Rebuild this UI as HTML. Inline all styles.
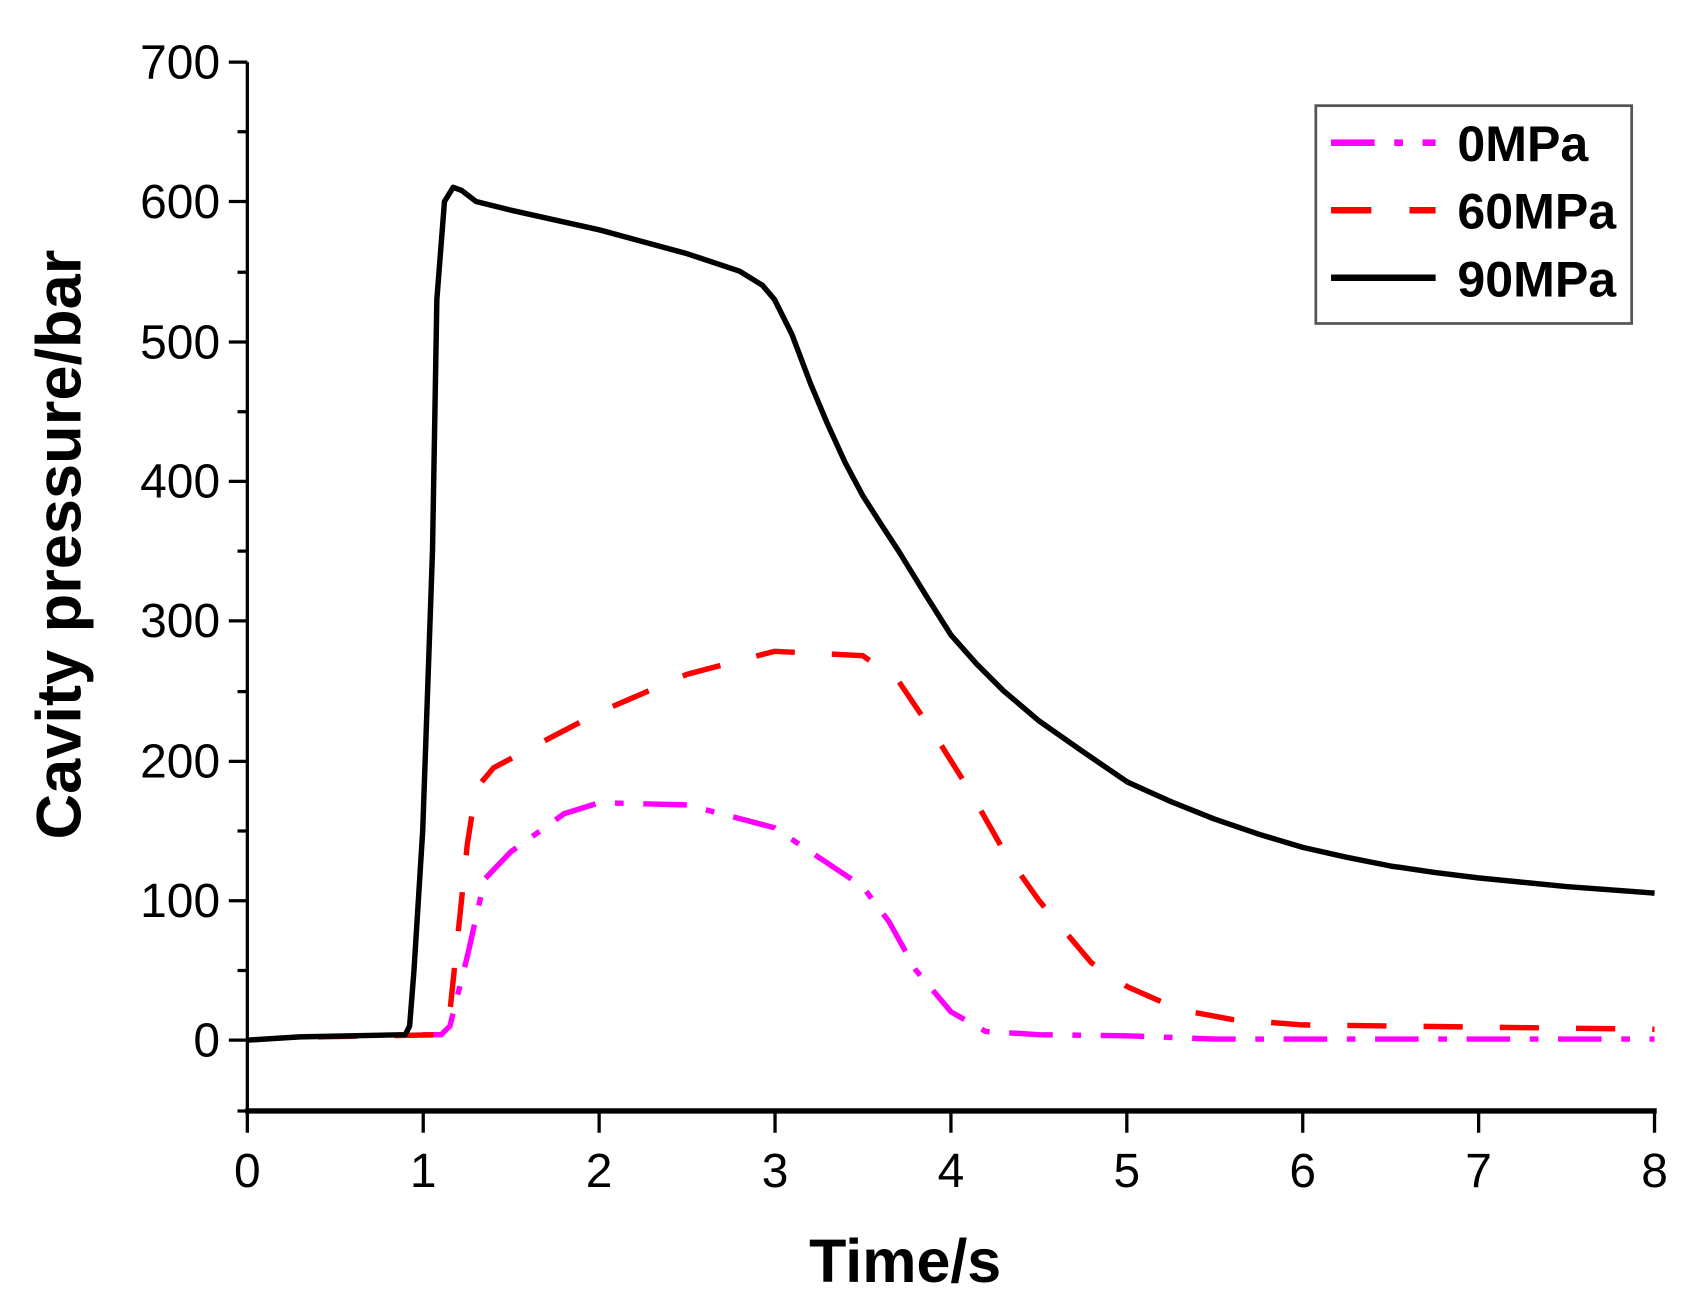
<!DOCTYPE html>
<html><head><style>html,body{margin:0;padding:0;background:#fff}</style></head>
<body>
<svg width="1708" height="1307" viewBox="0 0 1568 1200" xmlns="http://www.w3.org/2000/svg" font-family="Liberation Sans, Arial, sans-serif">
<rect width="1568" height="1200" fill="#fff"/>
<g stroke="#000" stroke-width="3" fill="none">
<line x1="227" y1="57" x2="227" y2="1022"/>
<line x1="225" y1="1020" x2="1521" y2="1020" stroke-width="5"/>
<path d="M210 57H227M210 185H227M210 314H227M210 442H227M210 570H227M210 699H227M210 827H227M210 955H227
M218 121H227M218 250H227M218 378H227M218 506H227M218 635H227M218 763H227M218 891H227M218 1020H227"/>
<path d="M227 1020V1040M388.5 1020V1040M550 1020V1040M711.5 1020V1040M873 1020V1040M1034.5 1020V1040M1196 1020V1040M1357.5 1020V1040M1519 1020V1040"/>
</g>
<g font-size="44" text-anchor="end" fill="#000">
<text x="202" y="72">700</text><text x="202" y="200">600</text><text x="202" y="329">500</text>
<text x="202" y="457">400</text><text x="202" y="585">300</text><text x="202" y="714">200</text>
<text x="202" y="842">100</text><text x="202" y="970">0</text>
</g>
<g font-size="44" text-anchor="middle" fill="#000">
<text x="227" y="1090">0</text><text x="388.5" y="1090">1</text><text x="550" y="1090">2</text>
<text x="711.5" y="1090">3</text><text x="873" y="1090">4</text><text x="1034.5" y="1090">5</text>
<text x="1196" y="1090">6</text><text x="1357.5" y="1090">7</text><text x="1519" y="1090">8</text>
</g>
<text x="831" y="1177" font-size="56" font-weight="bold" text-anchor="middle">Time/s</text>
<text transform="translate(74,500) rotate(-90)" font-size="58" font-weight="bold" text-anchor="middle">Cavity pressure/bar</text>
<polyline fill="none" stroke="#f0f" stroke-width="5" stroke-dasharray="40 18 8 18" points="388,950 405,950 413,942 429,878 445,807 469,782 518,747 550,737 631,739 711,760 792,814 816,846 841,891 873,929 905,947 954,950 1035,951 1115,954 1519,954"/>
<polyline fill="none" stroke="#f00" stroke-width="5" stroke-dasharray="36 34" points="292,952 405,950 413,929 421,852 429,775 437,724 453,705 502,679 550,654 631,619 711,598 792,602 824,624 857,673 889,724 922,782 954,827 1002,884 1035,906 1083,927 1131,936 1196,941 1357,943 1519,945"/>
<polyline fill="none" stroke="#000" stroke-width="5" stroke-linejoin="round" points="227,955 275,952 372,950 376,942 380,891 388,763 397,506 401,275 408,185 416,172 424,175 437,185 469,193 550,211 631,233 679,249 700,262 711,275 727,307 744,352 760,390 776,425 792,455 808,480 825,506 849,545 873,583 897,610 921,634 954,662 994,690 1035,718 1075,736 1115,752 1156,766 1196,778 1236,787 1276,795 1317,801 1357,806 1438,814 1519,820"/>
<rect x="1208" y="97" width="290" height="200" fill="none" stroke="#555" stroke-width="2.5"/>
<line x1="1222" y1="131" x2="1318" y2="131" stroke="#f0f" stroke-width="6" stroke-dasharray="40 18 8 18"/>
<line x1="1222" y1="193" x2="1318" y2="193" stroke="#f00" stroke-width="6" stroke-dasharray="37 35"/>
<line x1="1222" y1="255" x2="1318" y2="255" stroke="#000" stroke-width="6"/>
<g font-size="46" font-weight="bold">
<text x="1338" y="148">0MPa</text><text x="1338" y="210">60MPa</text><text x="1338" y="272">90MPa</text>
</g>
</svg>
</body></html>
